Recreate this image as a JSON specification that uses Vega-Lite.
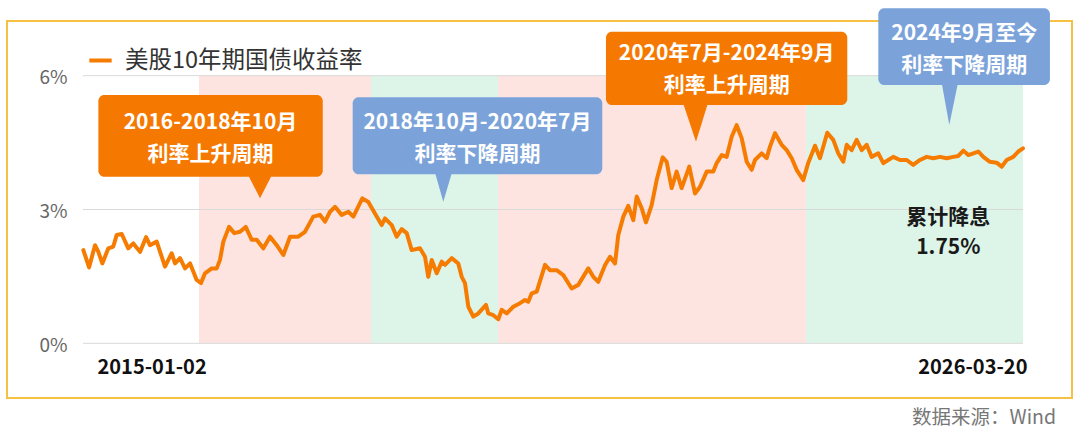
{
  "$schema": "https://vega.github.io/schema/vega-lite/v6.json",
  "autosize": "none",
  "width": 1065,
  "height": 377,
  "padding": {"left": 7, "top": 21, "right": 8, "bottom": 37},
  "background": "white",
  "config": {
    "font": "Noto Sans CJK SC",
    "view": {"stroke": "#F6C143", "strokeWidth": 2}
  },
  "title": {
    "text": "数据来源：Wind",
    "orient": "bottom",
    "anchor": "end",
    "frame": "group",
    "offset": 11,
    "dx": -16,
    "fontSize": 19.5,
    "fontWeight": "normal",
    "color": "#777777",
    "font": "Noto Sans CJK SC"
  },
  "datasets": {
    "yield": [
      {"t": 2015.004, "v": 2.09}, {"t": 2015.072, "v": 1.70}, {"t": 2015.143, "v": 2.20}, {"t": 2015.183, "v": 2.05},
      {"t": 2015.230, "v": 1.79}, {"t": 2015.302, "v": 2.13}, {"t": 2015.361, "v": 2.17}, {"t": 2015.402, "v": 2.43},
      {"t": 2015.462, "v": 2.45}, {"t": 2015.540, "v": 2.13}, {"t": 2015.600, "v": 2.24}, {"t": 2015.680, "v": 2.05},
      {"t": 2015.752, "v": 2.38}, {"t": 2015.799, "v": 2.20}, {"t": 2015.879, "v": 2.28}, {"t": 2015.978, "v": 1.72},
      {"t": 2016.058, "v": 2.02}, {"t": 2016.098, "v": 1.79}, {"t": 2016.157, "v": 1.91}, {"t": 2016.217, "v": 1.68},
      {"t": 2016.277, "v": 1.79}, {"t": 2016.356, "v": 1.42}, {"t": 2016.408, "v": 1.35}, {"t": 2016.455, "v": 1.57},
      {"t": 2016.535, "v": 1.68}, {"t": 2016.595, "v": 1.68}, {"t": 2016.634, "v": 1.87}, {"t": 2016.674, "v": 2.28},
      {"t": 2016.742, "v": 2.61}, {"t": 2016.805, "v": 2.47}, {"t": 2016.873, "v": 2.50}, {"t": 2016.941, "v": 2.61},
      {"t": 2017.013, "v": 2.32}, {"t": 2017.072, "v": 2.32}, {"t": 2017.151, "v": 2.13}, {"t": 2017.231, "v": 2.39},
      {"t": 2017.311, "v": 2.20}, {"t": 2017.390, "v": 1.98}, {"t": 2017.470, "v": 2.39}, {"t": 2017.568, "v": 2.39},
      {"t": 2017.648, "v": 2.50}, {"t": 2017.747, "v": 2.84}, {"t": 2017.827, "v": 2.88}, {"t": 2017.887, "v": 2.73},
      {"t": 2017.947, "v": 2.95}, {"t": 2018.006, "v": 3.06}, {"t": 2018.086, "v": 2.88}, {"t": 2018.165, "v": 2.95},
      {"t": 2018.225, "v": 2.84}, {"t": 2018.332, "v": 3.25}, {"t": 2018.404, "v": 3.17}, {"t": 2018.483, "v": 2.91},
      {"t": 2018.563, "v": 2.65}, {"t": 2018.603, "v": 2.80}, {"t": 2018.683, "v": 2.65}, {"t": 2018.742, "v": 2.39},
      {"t": 2018.802, "v": 2.56}, {"t": 2018.862, "v": 2.47}, {"t": 2018.921, "v": 2.09}, {"t": 2019.020, "v": 2.13},
      {"t": 2019.080, "v": 1.94}, {"t": 2019.119, "v": 1.49}, {"t": 2019.160, "v": 1.87}, {"t": 2019.220, "v": 1.57},
      {"t": 2019.279, "v": 1.83}, {"t": 2019.319, "v": 1.76}, {"t": 2019.399, "v": 1.91}, {"t": 2019.477, "v": 1.79},
      {"t": 2019.518, "v": 1.49}, {"t": 2019.557, "v": 1.35}, {"t": 2019.597, "v": 0.82}, {"t": 2019.656, "v": 0.60},
      {"t": 2019.716, "v": 0.67}, {"t": 2019.808, "v": 0.86}, {"t": 2019.835, "v": 0.67}, {"t": 2019.895, "v": 0.63},
      {"t": 2019.954, "v": 0.54}, {"t": 2019.995, "v": 0.75}, {"t": 2020.055, "v": 0.67}, {"t": 2020.133, "v": 0.82},
      {"t": 2020.213, "v": 0.90}, {"t": 2020.273, "v": 0.97}, {"t": 2020.312, "v": 0.93}, {"t": 2020.353, "v": 1.12},
      {"t": 2020.413, "v": 1.16}, {"t": 2020.512, "v": 1.76}, {"t": 2020.571, "v": 1.64}, {"t": 2020.651, "v": 1.64},
      {"t": 2020.730, "v": 1.53}, {"t": 2020.830, "v": 1.23}, {"t": 2020.909, "v": 1.31}, {"t": 2021.028, "v": 1.68},
      {"t": 2021.088, "v": 1.49}, {"t": 2021.147, "v": 1.38}, {"t": 2021.227, "v": 1.75}, {"t": 2021.287, "v": 1.94},
      {"t": 2021.347, "v": 1.79}, {"t": 2021.386, "v": 2.43}, {"t": 2021.446, "v": 2.84}, {"t": 2021.505, "v": 3.08},
      {"t": 2021.565, "v": 2.76}, {"t": 2021.606, "v": 3.29}, {"t": 2021.665, "v": 3.03}, {"t": 2021.716, "v": 2.71},
      {"t": 2021.784, "v": 3.10}, {"t": 2021.844, "v": 3.66}, {"t": 2021.916, "v": 4.17}, {"t": 2021.963, "v": 4.07},
      {"t": 2022.023, "v": 3.48}, {"t": 2022.082, "v": 3.85}, {"t": 2022.142, "v": 3.48}, {"t": 2022.233, "v": 3.96},
      {"t": 2022.301, "v": 3.36}, {"t": 2022.361, "v": 3.51}, {"t": 2022.441, "v": 3.85}, {"t": 2022.519, "v": 3.85},
      {"t": 2022.560, "v": 4.04}, {"t": 2022.620, "v": 4.22}, {"t": 2022.679, "v": 4.18}, {"t": 2022.739, "v": 4.63},
      {"t": 2022.798, "v": 4.89}, {"t": 2022.858, "v": 4.60}, {"t": 2022.918, "v": 4.07}, {"t": 2022.977, "v": 3.89},
      {"t": 2023.017, "v": 4.11}, {"t": 2023.097, "v": 4.26}, {"t": 2023.156, "v": 4.15}, {"t": 2023.196, "v": 4.41},
      {"t": 2023.256, "v": 4.71}, {"t": 2023.335, "v": 4.45}, {"t": 2023.395, "v": 4.33}, {"t": 2023.455, "v": 4.15},
      {"t": 2023.514, "v": 3.89}, {"t": 2023.593, "v": 3.66}, {"t": 2023.653, "v": 4.05}, {"t": 2023.733, "v": 4.43},
      {"t": 2023.792, "v": 4.15}, {"t": 2023.879, "v": 4.72}, {"t": 2023.951, "v": 4.56}, {"t": 2024.010, "v": 4.26},
      {"t": 2024.070, "v": 4.07}, {"t": 2024.111, "v": 4.45}, {"t": 2024.170, "v": 4.33}, {"t": 2024.230, "v": 4.56},
      {"t": 2024.290, "v": 4.33}, {"t": 2024.349, "v": 4.45}, {"t": 2024.409, "v": 4.18}, {"t": 2024.488, "v": 4.26},
      {"t": 2024.548, "v": 4.04}, {"t": 2024.607, "v": 4.11}, {"t": 2024.667, "v": 4.18}, {"t": 2024.747, "v": 4.11},
      {"t": 2024.827, "v": 4.11}, {"t": 2024.905, "v": 4.00}, {"t": 2024.985, "v": 4.11}, {"t": 2025.065, "v": 4.18},
      {"t": 2025.144, "v": 4.15}, {"t": 2025.224, "v": 4.18}, {"t": 2025.304, "v": 4.15}, {"t": 2025.383, "v": 4.18},
      {"t": 2025.443, "v": 4.20}, {"t": 2025.503, "v": 4.32}, {"t": 2025.562, "v": 4.22}, {"t": 2025.622, "v": 4.26},
      {"t": 2025.682, "v": 4.30}, {"t": 2025.741, "v": 4.18}, {"t": 2025.820, "v": 4.07}, {"t": 2025.900, "v": 4.05},
      {"t": 2025.960, "v": 3.96}, {"t": 2026.020, "v": 4.11}, {"t": 2026.098, "v": 4.18}, {"t": 2026.158, "v": 4.30},
      {"t": 2026.214, "v": 4.37}
    ]
  },
  "layer": [
    {
      "data": {"values": [
        {"t1": 2016.384, "t2": 2018.436, "phase": "上升"},
        {"t1": 2018.436, "t2": 2019.951, "phase": "下降"},
        {"t1": 2019.951, "t2": 2023.625, "phase": "上升"},
        {"t1": 2023.625, "t2": 2026.214, "phase": "下降"}
      ]},
      "mark": {"type": "rect"},
      "encoding": {
        "x": {
          "field": "t1", "type": "quantitative",
          "scale": {"domain": [2014.093, 2026.799], "nice": false, "zero": false},
          "axis": {
            "values": [2015.0, 2026.214],
            "labelExpr": "datum.value < 2020 ? '2015-01-02' : '2026-03-20'",
            "offset": -31, "domain": false, "ticks": false, "tickSize": 0, "grid": false,
            "labelPadding": 0, "labelFontSize": 20, "labelFontWeight": "bold", "labelColor": "#111111",
            "labelBaseline": "middle", "labelFlush": false, "labelOverlap": false,
            "labelAlign": {"condition": {"test": "datum.value < 2020", "value": "left"}, "value": "right"},
            "labelOffset": {"condition": {"test": "datum.value < 2020", "value": 14}, "value": 4},
            "title": null, "labelFont": "Noto Sans CJK SC", "zindex": 1
          }
        },
        "x2": {"field": "t2"},
        "y": {
          "datum": 0, "type": "quantitative",
          "scale": {"domain": [-1.226, 7.226], "nice": false, "zero": false},
          "axis": {
            "values": [0, 3, 6], "labelExpr": "datum.value + '%'", "offset": -68,
            "domain": false, "ticks": false, "tickSize": 0, "grid": false,
            "labelPadding": 8, "labelFontSize": 19, "labelColor": "#666666", "labelOffset": 2,
            "labelBaseline": "middle", "title": null, "labelFont": "Noto Sans CJK SC", "zindex": 1
          }
        },
        "y2": {"datum": 6},
        "fill": {"field": "phase", "type": "nominal", "scale": {"domain": ["上升", "下降"], "range": ["#FDE4E1", "#DDF5E9"]}, "legend": null}
      }
    },
    {
      "data": {"values": [{"v": 0}, {"v": 3}, {"v": 6}]},
      "mark": {"type": "rule", "color": "#D9D9D9", "strokeWidth": 1},
      "encoding": {
        "x": {"datum": 2015.0, "type": "quantitative", "scale": {"domain": [2014.093, 2026.799], "nice": false, "zero": false}},
        "x2": {"datum": 2026.214},
        "y": {"field": "v", "type": "quantitative", "scale": {"domain": [-1.226, 7.226], "nice": false, "zero": false}}
      }
    },
    {
      "data": {"name": "yield"},
      "mark": {"type": "line", "strokeWidth": 4, "strokeJoin": "round", "strokeCap": "round"},
      "encoding": {
        "x": {"field": "t", "type": "quantitative", "scale": {"domain": [2014.093, 2026.799], "nice": false, "zero": false}},
        "y": {"field": "v", "type": "quantitative", "scale": {"domain": [-1.226, 7.226], "nice": false, "zero": false}},
        "color": {
          "datum": "美股10年期国债收益率", "type": "nominal",
          "scale": {"range": ["#F57C00"]},
          "legend": {
            "orient": "none", "legendX": 80, "legendY": 26, "title": null,
            "symbolType": "stroke", "symbolStrokeWidth": 4, "symbolSize": 500,
            "labelFontSize": 23.5, "labelColor": "#333333", "labelOffset": 11, "labelLimit": 500, "padding": 0,
            "labelFont": "Noto Sans CJK SC"
          }
        }
      }
    },
    {
      "data": {"values": [
        {"id": 1, "t1": 2015.183, "t2": 2017.860, "y1": 3.735, "y2": 5.567, "phase": "上升"},
        {"id": 2, "t1": 2018.217, "t2": 2021.195, "y1": 3.789, "y2": 5.516, "phase": "下降"},
        {"id": 3, "t1": 2021.239, "t2": 2024.118, "y1": 5.343, "y2": 6.987, "phase": "上升"},
        {"id": 4, "t1": 2024.488, "t2": 2026.536, "y1": 5.791, "y2": 7.511, "phase": "下降"}
      ]},
      "mark": {"type": "rect", "cornerRadius": 6},
      "encoding": {
        "x": {"field": "t1", "type": "quantitative", "scale": {"domain": [2014.093, 2026.799], "nice": false, "zero": false}},
        "x2": {"field": "t2"},
        "y": {"field": "y1", "type": "quantitative", "scale": {"domain": [-1.226, 7.226], "nice": false, "zero": false}},
        "y2": {"field": "y2"},
        "fill": {"field": "phase", "type": "nominal", "scale": {"domain": ["上升", "下降"], "range": ["#F57900", "#7BA3DA"]}, "legend": null}
      }
    },
    {
      "data": {"values": [
        {"id": 1, "t": 2016.968, "y": 3.78, "yb": 3.78, "phase": "上升"},
        {"id": 1, "t": 2017.112, "y": 3.251, "yb": 3.78, "phase": "上升"},
        {"id": 1, "t": 2017.255, "y": 3.78, "yb": 3.78, "phase": "上升"},
        {"id": 2, "t": 2019.199, "y": 3.83, "yb": 3.83, "phase": "下降"},
        {"id": 2, "t": 2019.298, "y": 3.175, "yb": 3.83, "phase": "下降"},
        {"id": 2, "t": 2019.402, "y": 3.83, "yb": 3.83, "phase": "下降"},
        {"id": 3, "t": 2022.158, "y": 5.39, "yb": 5.39, "phase": "上升"},
        {"id": 3, "t": 2022.313, "y": 4.520, "yb": 5.39, "phase": "上升"},
        {"id": 3, "t": 2022.456, "y": 5.39, "yb": 5.39, "phase": "上升"},
        {"id": 4, "t": 2025.244, "y": 5.84, "yb": 5.84, "phase": "下降"},
        {"id": 4, "t": 2025.335, "y": 4.895, "yb": 5.84, "phase": "下降"},
        {"id": 4, "t": 2025.439, "y": 5.84, "yb": 5.84, "phase": "下降"}
      ]},
      "mark": {"type": "area", "interpolate": "linear"},
      "encoding": {
        "x": {"field": "t", "type": "quantitative", "scale": {"domain": [2014.093, 2026.799], "nice": false, "zero": false}},
        "y": {"field": "y", "type": "quantitative", "scale": {"domain": [-1.226, 7.226], "nice": false, "zero": false}},
        "y2": {"field": "yb"},
        "detail": {"field": "id", "type": "nominal"},
        "fill": {"field": "phase", "type": "nominal", "scale": {"domain": ["上升", "下降"], "range": ["#F57900", "#7BA3DA"]}, "legend": null}
      }
    },
    {
      "data": {"values": [
        {"t": 2016.521, "y": 4.946, "label": "2016-2018年10月\n利率上升周期"},
        {"t": 2019.706, "y": 4.946, "label": "2018年10月-2020年7月\n利率下降周期"},
        {"t": 2022.679, "y": 6.480, "label": "2020年7月-2024年9月\n利率上升周期"},
        {"t": 2025.513, "y": 6.928, "label": "2024年9月至今\n利率下降周期"}
      ]},
      "mark": {"type": "text", "color": "white", "fontSize": 21, "fontWeight": "bold", "lineBreak": "\n", "lineHeight": 32, "baseline": "middle", "align": "center", "font": "Noto Sans CJK SC"},
      "encoding": {
        "x": {"field": "t", "type": "quantitative", "scale": {"domain": [2014.093, 2026.799], "nice": false, "zero": false}},
        "y": {"field": "y", "type": "quantitative", "scale": {"domain": [-1.226, 7.226], "nice": false, "zero": false}},
        "text": {"field": "label"}
      }
    },
    {
      "data": {"values": [
        {"t": 2025.323, "y": 2.816, "label": "累计降息\n1.75%"}
      ]},
      "mark": {"type": "text", "color": "#1A1A1A", "fontSize": 21, "fontWeight": "bold", "lineBreak": "\n", "lineHeight": 30, "baseline": "middle", "align": "center", "font": "Noto Sans CJK SC"},
      "encoding": {
        "x": {"field": "t", "type": "quantitative", "scale": {"domain": [2014.093, 2026.799], "nice": false, "zero": false}},
        "y": {"field": "y", "type": "quantitative", "scale": {"domain": [-1.226, 7.226], "nice": false, "zero": false}},
        "text": {"field": "label"}
      }
    }
  ],
  "resolve": {"scale": {"fill": "independent"}}
}
